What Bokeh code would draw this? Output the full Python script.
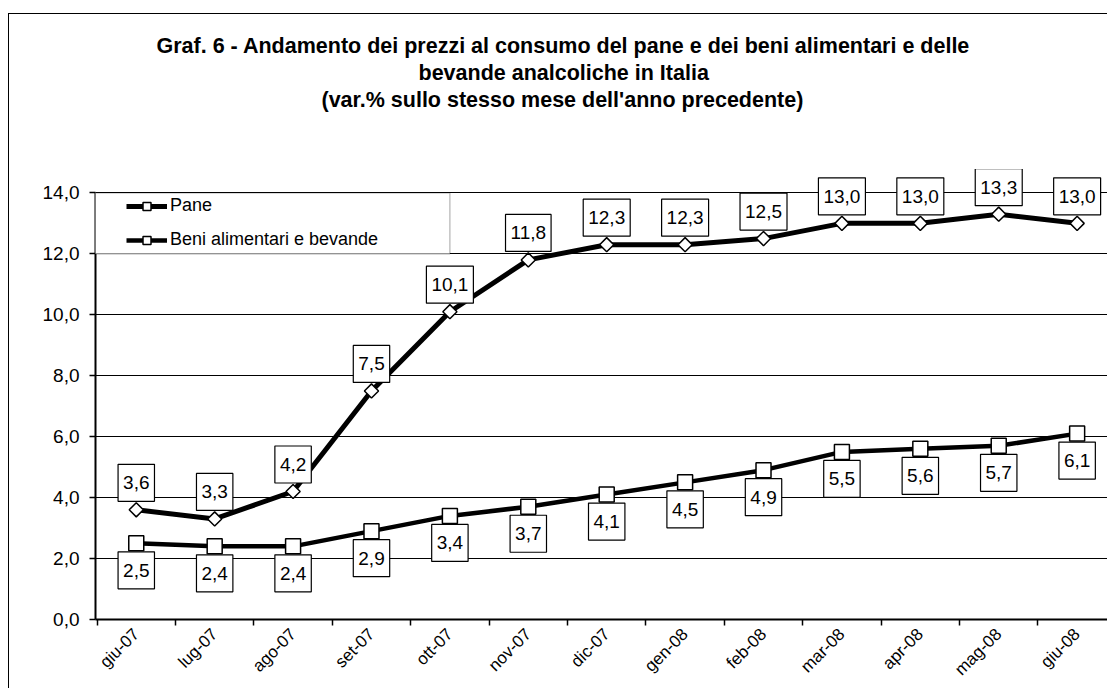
import math
from bokeh.plotting import figure
from bokeh.models import (ColumnDataSource, Range1d, FixedTicker, Legend, LegendItem,
                          BoxAnnotation, Title, LinearAxis)
from bokeh.core.properties import value
from bokeh.embed import file_html
from bokeh.resources import INLINE

# ---------------- data ----------------
months = ["giu-07", "lug-07", "ago-07", "set-07", "ott-07", "nov-07", "dic-07",
          "gen-08", "feb-08", "mar-08", "apr-08", "mag-08", "giu-08"]
pane = [3.6, 3.3, 4.2, 7.5, 10.1, 11.8, 12.3, 12.3, 12.5, 13.0, 13.0, 13.3, 13.0]
beni = [2.5, 2.4, 2.4, 2.9, 3.4, 3.7, 4.1, 4.5, 4.9, 5.5, 5.6, 5.7, 6.1]
series_names = ["Pane", "Beni alimentari e bevande"]
y_ticks = [0, 2, 4, 6, 8, 10, 12, 14]
y_tick_labels = ["0,0", "2,0", "4,0", "6,0", "8,0", "10,0", "12,0", "14,0"]
title_lines = [
    "Graf. 6 - Andamento dei prezzi al consumo del pane e dei beni alimentari e delle",
    "bevande analcoliche in Italia",
    "(var.% sullo stesso mese dell'anno precedente)",
]

FONT_NAME = "Liberation Sans"
FONT = value(FONT_NAME)


def fmt(v):
    return f"{v:.1f}".replace(".", ",")


xs = list(range(len(months)))
src = ColumnDataSource(dict(
    x=xs, pane=pane, beni=beni,
    pane_lbl=[fmt(v) for v in pane],
    beni_lbl=[fmt(v) for v in beni],
))

# the visible axis stops at 14; the range goes a little higher so the label boxes fit
p = figure(width=1099, height=675, output_backend="svg", toolbar_location=None,
           x_range=Range1d(-0.52, 12.40), y_range=Range1d(0, 14.8),
           min_border_left=86, min_border_right=0, min_border_top=154,
           min_border_bottom=70, outline_line_color=None,
           background_fill_color="white", border_fill_color="white")
p.styles = {"border-top": "1px solid black", "border-left": "1px solid black",
            "margin-top": "13px", "margin-left": "8px"}

# axes
p.yaxis.ticker = FixedTicker(ticks=y_ticks)
p.yaxis.bounds = (y_ticks[0], y_ticks[-1])
p.yaxis.major_label_overrides = {t: l for t, l in zip(y_ticks, y_tick_labels)}
p.yaxis.major_tick_out = 6
p.yaxis.major_tick_in = 0
p.yaxis.major_label_standoff = 10
p.yaxis.minor_tick_line_color = None

p.xaxis.ticker = FixedTicker(ticks=xs, minor_ticks=[i - 0.5 for i in range(len(months) + 1)])
p.xaxis.major_label_overrides = {i: m for i, m in enumerate(months)}
p.xaxis.major_label_orientation = math.pi / 4
p.xaxis.major_tick_out = 0
p.xaxis.major_tick_in = 0
p.xaxis.minor_tick_out = 6
p.xaxis.minor_tick_in = 0
p.xaxis.minor_tick_line_width = 1.5
p.xaxis.major_label_standoff = 6

for ax in (p.xaxis, p.yaxis):
    ax.axis_line_color = "black"
    ax.axis_line_width = 2
    ax.major_tick_line_color = "black"
    ax.major_tick_line_width = 1.5
    ax.major_label_text_color = "black"
    ax.major_label_text_font = FONT_NAME
p.xaxis.major_label_text_font_size = "17px"
p.yaxis.major_label_text_font_size = "19px"

p.ygrid.grid_line_color = "black"
p.ygrid.grid_line_width = 1
p.xgrid.visible = False

# series
r_pane_l = p.line("x", "pane", source=src, line_color="black", line_width=5)
r_pane_m = p.scatter("x", "pane", source=src, marker="square", angle=math.pi / 4, size=10,
                     fill_color="white", line_color="black", line_width=1.5)
r_beni_l = p.line("x", "beni", source=src, line_color="black", line_width=4.5)
r_beni_m = p.scatter("x", "beni", source=src, marker="square", size=15,
                     fill_color="white", line_color="black", line_width=1.5)

# data labels
common = dict(source=src, text_align="center", text_baseline="middle",
              text_font=FONT, text_font_size="19px", text_color="black",
              background_fill_color="white", border_line_color="black",
              border_line_width=1.2, padding=(5, 12))
p.text(x="x", y="pane", text="pane_lbl", y_offset=-27, **common)
p.text(x="x", y="beni", text="beni_lbl", y_offset=27, **common)

# legend box + legend
p.add_layout(BoxAnnotation(left=-0.53, right=4.0, bottom=12, top=14,
                           fill_color="white", fill_alpha=1.0,
                           line_color="black", line_width=1.2))
legend = Legend(items=[LegendItem(label=series_names[0], renderers=[r_pane_l, r_pane_m]),
                       LegendItem(label=series_names[1], renderers=[r_beni_l, r_beni_m])],
                location=(31, 369), padding=0, border_line_color=None,
                background_fill_alpha=0, glyph_width=41, glyph_height=20,
                label_height=20, spacing=13, label_standoff=3,
                label_text_font=FONT_NAME, label_text_font_size="18px",
                label_text_color="black")
p.add_layout(legend)

# empty (white) space between the plot area and the title block
spacer = LinearAxis(ticker=FixedTicker(ticks=[0]), major_label_overrides={0: ""},
                    major_tick_out=56, major_tick_in=0, major_label_standoff=0,
                    axis_line_color="white", major_tick_line_color="white",
                    minor_tick_line_color=None)
p.add_layout(spacer, "above")

# title: three centred lines (nearest to the plot added first)
title_offsets = [61, 323, 226]
for line, off in reversed(list(zip(title_lines, title_offsets))):
    p.add_layout(Title(text=line, align="left", offset=off, standoff=0.5,
                       text_font=FONT_NAME, text_font_style="bold",
                       text_font_size="21.5px", text_color="black"), "above")

open("out.html", "w").write(file_html(p, INLINE))
